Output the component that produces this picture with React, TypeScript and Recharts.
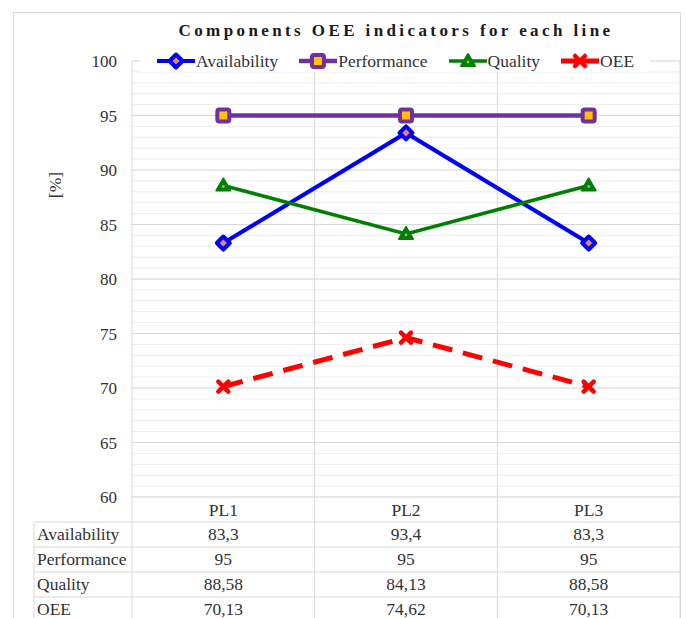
import React from "react";
import {
  LineChart,
  Line,
  XAxis,
  YAxis,
  CartesianGrid,
  Legend,
  ReferenceLine,
} from "recharts";

const categories = ["PL1", "PL2", "PL3"];
const availability = [83.3, 93.4, 83.3];
const performance = [95, 95, 95];
const quality = [88.58, 84.13, 88.58];
const oee = [70.13, 74.62, 70.13];
const majorTicks = [60, 65, 70, 75, 80, 85, 90, 95, 100];
const minorTicks = [
  60, 61, 62, 63, 64, 65, 66, 67, 68, 69, 70, 71, 72, 73, 74, 75, 76, 77, 78,
  79, 80, 81, 82, 83, 84, 85, 86, 87, 88, 89, 90, 91, 92, 93, 94, 95, 96, 97,
  98, 99, 100,
];

const W = 686;
const H = 618;
const PLOT_LEFT = 132;
const PLOT_RIGHT = 680;
const PLOT_TOP = 61;
const PLOT_BOTTOM = 497;
const ROW_H = 25;
const TABLE_LEFT = 34;
const FONT = "'Liberation Serif', 'Times New Roman', serif";
const FS = 17.5;
const TEXT = "#333";
const GRID = "#D9D9D9";

const series = [
  { key: "Availability", values: availability, color: "#0000FF", width: 4, dash: undefined, marker: "diamond" },
  { key: "Performance", values: performance, color: "#7030A0", width: 4.5, dash: undefined, marker: "square" },
  { key: "Quality", values: quality, color: "#008000", width: 3.5, dash: undefined, marker: "triangle" },
  { key: "OEE", values: oee, color: "#FF0000", width: 5, dash: "20 11", marker: "cross" },
];

const data = categories.map((name, i) => {
  const row: Record<string, string | number> = { name };
  series.forEach((s) => (row[s.key] = s.values[i]));
  return row;
});

const fmt = (v: number) => String(v).replace(".", ",");

const Marker = ({ type, cx, cy, color }: { type: string; cx: number; cy: number; color: string }) => {
  if (type === "diamond") {
    return (
      <polygon
        points={`${cx},${cy - 6.5} ${cx + 6.5},${cy} ${cx},${cy + 6.5} ${cx - 6.5},${cy}`}
        fill="#E9826E"
        stroke={color}
        strokeWidth={4}
        strokeLinejoin="round"
      />
    );
  }
  if (type === "square") {
    return (
      <rect x={cx - 6} y={cy - 6} width={12} height={12} rx={2} fill="#FFC000" stroke={color} strokeWidth={4} />
    );
  }
  if (type === "triangle") {
    return (
      <g>
        <polygon
          points={`${cx},${cy - 7} ${cx + 7},${cy + 5} ${cx - 7},${cy + 5}`}
          fill={color}
          stroke={color}
          strokeWidth={2}
          strokeLinejoin="round"
        />
        <circle cx={cx} cy={cy + 1} r={1.4} fill="#7fbf7f" />
      </g>
    );
  }
  return (
    <g stroke={color} strokeWidth={4.5} strokeLinecap="round">
      <line x1={cx - 5} y1={cy - 5} x2={cx + 5} y2={cy + 5} />
      <line x1={cx - 5} y1={cy + 5} x2={cx + 5} y2={cy - 5} />
    </g>
  );
};

const LegendContent = () => (
  <div
    style={{
      display: "flex",
      justifyContent: "center",
      alignItems: "center",
      fontFamily: FONT,
      fontSize: FS,
      color: TEXT,
      background: "#fff",
      height: 22,
    }}
  >
    {series.map((s, i) => (
      <div
        key={s.key}
        style={{ display: "flex", alignItems: "center", marginRight: i < series.length - 1 ? 20 : 0 }}
      >
        <svg width={40} height={20}>
          <line x1={1} y1={10} x2={39} y2={10} stroke={s.color} strokeWidth={s.width} />
          <Marker type={s.marker} cx={20} cy={10} color={s.color} />
        </svg>
        <span>{s.key}</span>
      </div>
    ))}
  </div>
);

const YTick = (props: any) => {
  const { x, y, payload } = props;
  if (payload.value % 5 !== 0) return <g />;
  return (
    <text x={x} y={y} dy="0.355em" textAnchor="end" fontFamily={FONT} fontSize={17} fill={TEXT}>
      {payload.value}
    </text>
  );
};

const TableTick = (props: any) => {
  const { x, payload, index } = props;
  return (
    <g fontFamily={FONT} fontSize={FS} fill={TEXT} textAnchor="middle">
      <text x={x} y={PLOT_BOTTOM + ROW_H / 2} dy="0.355em">
        {payload.value}
      </text>
      {series.map((s, r) => (
        <text key={s.key} x={x} y={PLOT_BOTTOM + ROW_H * (r + 1.5) - 1} dy="0.355em">
          {fmt(s.values[index])}
        </text>
      ))}
    </g>
  );
};

const TableLines = () => {
  const cellW = (PLOT_RIGHT - PLOT_LEFT) / categories.length;
  const cols = [PLOT_LEFT, ...categories.map((_, i) => PLOT_LEFT + cellW * (i + 1))];
  return (
    <svg width={W} height={H} style={{ position: "absolute", left: 0, top: 0, pointerEvents: "none" }}>
      <rect x={13.5} y={12.5} width={667} height={640} fill="none" stroke={GRID} />
      {series.map((s, r) => (
        <line
          key={s.key}
          x1={TABLE_LEFT}
          x2={PLOT_RIGHT}
          y1={PLOT_BOTTOM + ROW_H * (r + 1)}
          y2={PLOT_BOTTOM + ROW_H * (r + 1)}
          stroke={GRID}
        />
      ))}
      <line x1={TABLE_LEFT} x2={TABLE_LEFT} y1={PLOT_BOTTOM + ROW_H} y2={H} stroke={GRID} />
      {cols.map((cx) => (
        <line key={cx} x1={cx} x2={cx} y1={PLOT_BOTTOM} y2={H} stroke={GRID} />
      ))}
      {series.map((s, r) => (
        <text
          key={s.key}
          x={TABLE_LEFT + 3}
          y={PLOT_BOTTOM + ROW_H * (r + 1.5) - 1}
          dy="0.355em"
          fontFamily={FONT}
          fontSize={FS}
          fill={TEXT}
        >
          {s.key}
        </text>
      ))}
      <text
        x={396}
        y={30}
        dy="0.355em"
        textAnchor="middle"
        fontFamily={FONT}
        fontSize={17}
        fontWeight="bold"
        letterSpacing={3.4}
        fill="#1a1a1a"
      >
        Components OEE indicators for each line
      </text>
      <text
        x={55}
        y={185}
        dy="0.355em"
        textAnchor="middle"
        transform="rotate(-90 55 185)"
        fontFamily={FONT}
        fontSize={FS}
        fill={TEXT}
      >
        [%]
      </text>
    </svg>
  );
};

export default function App() {
  const verticalLines = ({ offset }: any) =>
    [0, 1, 2, 3].map((i) => offset.left + (i * offset.width) / categories.length);

  return (
    <div style={{ position: "absolute", left: 0, top: 0, width: W, height: H, background: "#fff", overflow: "hidden" }}>
      <LineChart
        width={W}
        height={H}
        data={data}
        margin={{ top: PLOT_TOP, right: W - PLOT_RIGHT, left: 12, bottom: 0 }}
      >
        <CartesianGrid stroke="#EEEEEE" vertical={false} />
        <CartesianGrid stroke={GRID} horizontal={false} verticalCoordinatesGenerator={verticalLines} />
        {majorTicks.map((v) => (
          <ReferenceLine key={v} y={v} stroke={GRID} strokeWidth={1.2} />
        ))}
        <XAxis
          dataKey="name"
          scale="band"
          height={H - PLOT_BOTTOM}
          axisLine={false}
          tickLine={false}
          tickSize={0}
          tickMargin={0}
          interval={0}
          tick={<TableTick />}
        />
        <YAxis
          domain={[60, 100]}
          ticks={minorTicks}
          interval={0}
          width={PLOT_LEFT - 12}
          axisLine={false}
          tickLine={false}
          tickSize={0}
          tickMargin={15}
          tick={<YTick />}
        />
        <Legend
          verticalAlign="middle"
          content={<LegendContent />}
          wrapperStyle={{ top: 50, left: 140, width: 510 }}
        />
        {series.map((s) => (
          <Line
            key={s.key}
            dataKey={s.key}
            stroke={s.color}
            strokeWidth={s.width}
            strokeDasharray={s.dash}
            isAnimationActive={false}
            dot={(p: any) => (
              <g key={p.key ?? `${s.key}-${p.index}`}>
                <Marker type={s.marker} cx={p.cx} cy={p.cy} color={s.color} />
              </g>
            )}
            activeDot={false}
          />
        ))}
      </LineChart>
      <TableLines />
    </div>
  );
}
